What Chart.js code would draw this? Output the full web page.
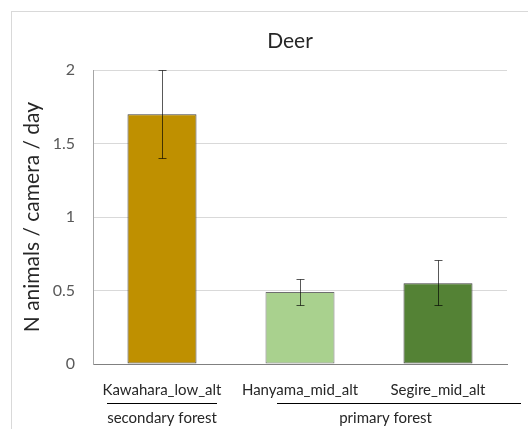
<!DOCTYPE html>
<html>
<head>
<meta charset="utf-8">
<script src="https://cdn.jsdelivr.net/npm/chart.js@4"></script>
<style>
  html, body { margin: 0; padding: 0; background: #fff; overflow: hidden; }
  canvas { display: block; }
</style>
</head>
<body>
<canvas id="deerChart" width="580" height="429"></canvas>
<script>
const categories = ['Kawahara_low_alt', 'Hanyama_mid_alt', 'Segire_mid_alt'];
const meanValues = [1.7, 0.49, 0.55];
const errLow = [1.4, 0.40, 0.40];
const errHigh = [2.0, 0.58, 0.71];
const yTickLabels = ['0', '0.5', '1', '1.5', '2'];
const groupNames = ['secondary forest', 'primary forest'];
const groupMembers = [[0], [1, 2]];

const barColors = ['#bf9000', '#a9d18e', '#548235'];
const barBorders = ['#3f3f3f', '#6f6f6f', '#3f3f3f'];
const FONT = 'Lato, "Open Sans", sans-serif';

// outer chart box (Excel style), cut off by the window on the right
const boxPlugin = {
    id: 'box',
    beforeDraw(chart) {
        const ctx = chart.ctx;
        ctx.save();
        ctx.strokeStyle = '#d9d9d9';
        ctx.lineWidth = 1;
        ctx.strokeRect(11.5, 11.5, 600, 600);
        ctx.restore();
    }
};

// error bars, placed with the y scale
const errorBarPlugin = {
    id: 'errorBars',
    afterDatasetsDraw(chart) {
        const ctx = chart.ctx;
        const y = chart.scales.y;
        const meta = chart.getDatasetMeta(0);
        ctx.save();
        ctx.strokeStyle = 'rgba(0,0,0,0.65)';
        ctx.lineWidth = 1;
        meta.data.forEach((bar, i) => {
            const x = Math.round(bar.x) + 0.5;
            const top = Math.round(y.getPixelForValue(errHigh[i])) + 0.5;
            const bot = Math.round(y.getPixelForValue(errLow[i])) + 0.5;
            ctx.beginPath();
            ctx.moveTo(x, top);
            ctx.lineTo(x, bot);
            ctx.moveTo(x - 4, top);
            ctx.lineTo(x + 4, top);
            ctx.moveTo(x - 4, bot);
            ctx.lineTo(x + 4, bot);
            ctx.stroke();
        });
        ctx.restore();
    }
};

// group brackets under the category labels (offsets in category steps)
const groupLayout = [
    { from: -0.4, to: 0.4, text: 0 },
    { from: -0.17, to: 1.6, text: 0.62 }
];
const groupPlugin = {
    id: 'groups',
    afterDraw(chart) {
        const ctx = chart.ctx;
        const x = chart.scales.x;
        const step = x.getPixelForValue(1) - x.getPixelForValue(0);
        ctx.save();
        ctx.strokeStyle = '#000';
        ctx.lineWidth = 1;
        ctx.fillStyle = '#262626';
        ctx.font = '15px ' + FONT;
        ctx.textAlign = 'center';
        ctx.textBaseline = 'middle';
        groupNames.forEach((name, g) => {
            const base = x.getPixelForValue(groupMembers[g][0]);
            const lay = groupLayout[g];
            ctx.beginPath();
            ctx.moveTo(Math.round(base + lay.from * step), 403.5);
            ctx.lineTo(Math.round(base + lay.to * step), 403.5);
            ctx.stroke();
            ctx.fillText(name, base + lay.text * step, 418);
        });
        ctx.restore();
    }
};

new Chart(document.getElementById('deerChart'), {
    type: 'bar',
    data: {
        labels: categories,
        datasets: [{
            data: meanValues,
            backgroundColor: barColors,
            borderColor: barBorders,
            borderWidth: 1,
            borderSkipped: false,
            barPercentage: 0.5,
            categoryPercentage: 1
        }]
    },
    options: {
        responsive: false,
        animation: false,
        devicePixelRatio: 1,
        layout: { padding: 0 },
        plugins: {
            legend: { display: false },
            tooltip: { enabled: false },
            title: {
                display: true,
                text: 'Deer',
                color: '#262626',
                font: { family: FONT, size: 21, weight: 'normal', lineHeight: 1.2 },
                padding: { top: 29, bottom: 16 }
            }
        },
        scales: {
            x: {
                grid: { display: false },
                border: { display: true, color: '#808080' },
                ticks: {
                    color: '#262626',
                    padding: 9,
                    maxRotation: 0,
                    font: { family: FONT, size: 15 }
                },
                afterFit(scale) { scale.height = 65; }
            },
            y: {
                min: 0,
                max: 2,
                grid: { color: '#d9d9d9', drawTicks: false },
                border: { display: true, color: '#a6a6a6' },
                ticks: {
                    stepSize: 0.5,
                    color: '#595959',
                    padding: 18,
                    font: { family: FONT, size: 16 },
                    callback: (value, index) => yTickLabels[index]
                },
                title: {
                    display: true,
                    text: 'N animals / camera / day',
                    color: '#262626',
                    font: { family: FONT, size: 21, lineHeight: 1.2 },
                    padding: { top: 20, bottom: 0 }
                },
                afterFit(scale) { scale.width = 93; }
            },
            yRight: {
                position: 'right',
                display: true,
                grid: { display: false },
                border: { display: false },
                ticks: { display: false },
                afterFit(scale) { scale.width = 73; }
            }
        }
    },
    plugins: [boxPlugin, errorBarPlugin, groupPlugin]
});
</script>
</body>
</html>
